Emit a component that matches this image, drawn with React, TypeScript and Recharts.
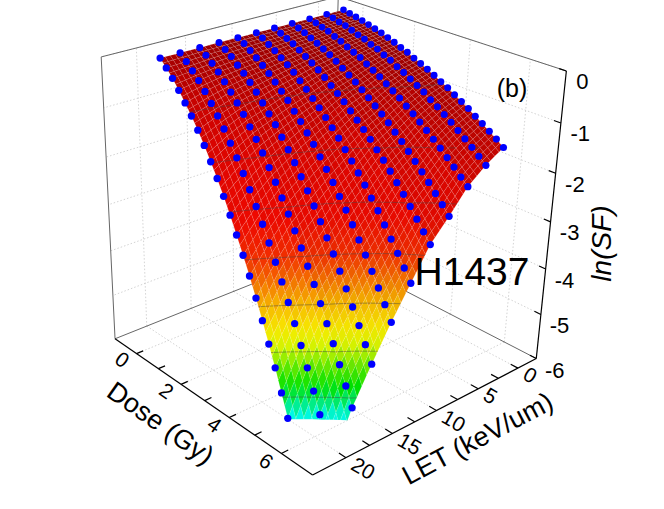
import React from "react";
import { ScatterChart, Scatter, XAxis, YAxis } from "recharts";

// grid of the fitted points
const doses = [0, 0.25, 0.5, 0.75, 1, 1.25, 1.5, 1.75, 2, 2.25, 2.5, 2.75, 3, 3.25, 3.5, 3.75, 4, 4.25, 4.5, 4.75, 5, 5.25, 5.5, 5.75, 6];
const lets = [0, 2, 4, 6, 8, 10, 12, 14, 16, 18, 20];

// ln(SF), one row per LET value, one column per dose
const lnSF = [
  [0, -0.03, -0.06, -0.09, -0.13, -0.17, -0.21, -0.26, -0.31, -0.37, -0.42, -0.49, -0.55, -0.62, -0.69, -0.77, -0.84, -0.93, -1.01, -1.1, -1.2, -1.29, -1.39, -1.49, -1.6],
  [0, -0.03, -0.07, -0.1, -0.15, -0.2, -0.24, -0.3, -0.35, -0.42, -0.48, -0.56, -0.63, -0.71, -0.79, -0.87, -0.97, -1.06, -1.16, -1.26, -1.37, -1.48, -1.59, -1.71, -1.83],
  [0, -0.04, -0.08, -0.12, -0.18, -0.23, -0.3, -0.36, -0.42, -0.5, -0.58, -0.66, -0.75, -0.84, -0.93, -1.04, -1.14, -1.25, -1.36, -1.48, -1.6, -1.73, -1.86, -2.0, -2.13],
  [0, -0.05, -0.1, -0.16, -0.22, -0.29, -0.36, -0.44, -0.53, -0.62, -0.71, -0.81, -0.92, -1.03, -1.14, -1.26, -1.39, -1.52, -1.66, -1.8, -1.95, -2.1, -2.26, -2.42, -2.59],
  [0, -0.06, -0.12, -0.18, -0.26, -0.34, -0.42, -0.51, -0.61, -0.72, -0.83, -0.94, -1.07, -1.2, -1.33, -1.47, -1.62, -1.77, -1.93, -2.1, -2.27, -2.45, -2.64, -2.83, -3.02],
  [0, -0.06, -0.14, -0.22, -0.31, -0.4, -0.5, -0.62, -0.74, -0.87, -1.0, -1.14, -1.29, -1.44, -1.61, -1.78, -1.96, -2.14, -2.34, -2.53, -2.75, -2.97, -3.19, -3.42, -3.66],
  [0, -0.07, -0.16, -0.26, -0.36, -0.47, -0.59, -0.72, -0.85, -1.01, -1.16, -1.33, -1.5, -1.69, -1.88, -2.08, -2.3, -2.51, -2.74, -2.98, -3.22, -3.48, -3.75, -4.02, -4.31],
  [0, -0.09, -0.18, -0.3, -0.41, -0.54, -0.68, -0.84, -1.0, -1.16, -1.35, -1.54, -1.74, -1.96, -2.18, -2.42, -2.67, -2.93, -3.19, -3.47, -3.76, -4.06, -4.37, -4.69, -5.02],
  [0, -0.1, -0.21, -0.33, -0.47, -0.62, -0.78, -0.95, -1.14, -1.33, -1.54, -1.77, -2.0, -2.25, -2.51, -2.78, -3.06, -3.36, -3.66, -3.98, -4.32, -4.66, -5.02, -5.39, -5.77],
  [0, -0.12, -0.25, -0.39, -0.55, -0.73, -0.92, -1.12, -1.34, -1.57, -1.82, -2.08, -2.35, -2.64, -2.95, -3.27, -3.6, -3.95, -4.31, -4.69, -5.08, -5.49, -5.91, -6.34, -6.79],
  [0, -0.14, -0.29, -0.47, -0.66, -0.86, -1.08, -1.32, -1.58, -1.85, -2.14, -2.45, -2.78, -3.12, -3.47, -3.85, -4.24, -4.65, -5.07, -5.52, -5.98, -6.45, -6.94, -7.45, -7.98],
];

const doseTicks = [0, 1, 2, 3, 4, 5, 6];
const doseLabels = [0, 2, 4, 6];
const letTicks = [0, 2.5, 5, 7.5, 10, 12.5, 15, 17.5, 20];
const letLabels = [0, 5, 10, 15, 20];
const zTicks = [0, -1, -2, -3, -4, -5, -6];
const contourLevels = [-5.6, -4.8, -4.0, -3.2, -2.4, -1.6, -0.8];

const W = 664;
const H = 509;
const X_DOMAIN = [0, W];
const Y_DOMAIN = [0, H];
const KX = W / (X_DOMAIN[1] - X_DOMAIN[0]);
const KY = H / (Y_DOMAIN[1] - Y_DOMAIN[0]);

// axis box
const DOSE_MIN = -1.02, DOSE_MAX = 7.125;
const LET_MIN = -2.4, LET_MAX = 23.435;
const Z_MIN = -6, Z_MAX = 0;

// perspective camera
const deg = Math.PI / 180;
const AZ = 39.83 * deg;
const EL = 25.61 * deg;
const DIST = 8.839;
const FOCAL = 1380.8;
const AIM = -0.488;
const CX0 = 250.4;
const CY0 = 213.2;
const BOX_H = 1.008;

const R = [Math.sin(AZ), -Math.cos(AZ), 0];
const U = [-Math.sin(EL) * Math.cos(AZ), -Math.sin(EL) * Math.sin(AZ), Math.cos(EL)];
const F = [-Math.cos(EL) * Math.cos(AZ), -Math.cos(EL) * Math.sin(AZ), -Math.sin(EL)];
const CAM = [AIM * R[0] - DIST * F[0], AIM * R[1] - DIST * F[1], AIM * R[2] - DIST * F[2]];

const dot3 = (a: number[], b: number[]) => a[0] * b[0] + a[1] * b[1] + a[2] * b[2];
const norm3 = (a: number[]) => {
  const l = Math.hypot(a[0], a[1], a[2]) || 1;
  return [a[0] / l, a[1] / l, a[2] / l];
};
const LIGHT = norm3([Math.cos(AZ), Math.sin(AZ), 0.12]);

function toWorld(d: number, l: number, z: number) {
  return [
    (2 * (d - DOSE_MIN)) / (DOSE_MAX - DOSE_MIN) - 1,
    (2 * (l - LET_MIN)) / (LET_MAX - LET_MIN) - 1,
    ((2 * (z - Z_MIN)) / (Z_MAX - Z_MIN) - 1) * BOX_H,
  ];
}

function project(d: number, l: number, z: number) {
  const p = toWorld(d, l, z);
  const v = [p[0] - CAM[0], p[1] - CAM[1], p[2] - CAM[2]];
  const zc = dot3(v, F);
  return { sx: CX0 + (FOCAL * dot3(v, R)) / zc, sy: CY0 - (FOCAL * dot3(v, U)) / zc, depth: zc };
}

const stops: number[][] = [
  [-6.0, 0, 255, 255],
  [-5.7, 0, 240, 130],
  [-5.4, 0, 230, 0],
  [-5.0, 120, 240, 0],
  [-4.7, 220, 250, 0],
  [-4.4, 255, 240, 0],
  [-4.0, 255, 190, 0],
  [-3.6, 255, 120, 0],
  [-3.2, 255, 50, 0],
  [-2.6, 255, 10, 0],
  [0, 255, 0, 0],
];

function colorAt(z: number) {
  if (z <= stops[0][0]) return stops[0].slice(1);
  for (let k = 1; k < stops.length; k++) {
    if (z <= stops[k][0]) {
      const a = stops[k - 1], b = stops[k];
      const t = (z - a[0]) / (b[0] - a[0]);
      return [a[1] + t * (b[1] - a[1]), a[2] + t * (b[2] - a[2]), a[3] + t * (b[3] - a[3])];
    }
  }
  return stops[stops.length - 1].slice(1);
}

// cut the surface at the floor of the box
function clipFloor(poly: number[][]) {
  const out: number[][] = [];
  for (let k = 0; k < poly.length; k++) {
    const a = poly[k], b = poly[(k + 1) % poly.length];
    const ina = a[2] >= Z_MIN, inb = b[2] >= Z_MIN;
    if (ina) out.push(a);
    if (ina !== inb) {
      const t = (Z_MIN - a[2]) / (b[2] - a[2]);
      out.push([a[0] + t * (b[0] - a[0]), a[1] + t * (b[1] - a[1]), Z_MIN]);
    }
  }
  return out;
}

const SUB_D = 2, SUB_L = 4;

function buildQuads() {
  const out: any[] = [];
  for (let i = 0; i < lets.length - 1; i++) {
    for (let j = 0; j < doses.length - 1; j++) {
      const c = [
        [doses[j], lets[i], lnSF[i][j]],
        [doses[j + 1], lets[i], lnSF[i][j + 1]],
        [doses[j + 1], lets[i + 1], lnSF[i + 1][j + 1]],
        [doses[j], lets[i + 1], lnSF[i + 1][j]],
      ];
      const w = c.map((p) => toWorld(p[0], p[1], p[2]));
      const a = [0, 1, 2].map((k) => w[1][k] + w[2][k] - w[0][k] - w[3][k]);
      const b = [0, 1, 2].map((k) => w[3][k] + w[2][k] - w[0][k] - w[1][k]);
      const n = norm3([a[1] * b[2] - a[2] * b[1], a[2] * b[0] - a[0] * b[2], a[0] * b[1] - a[1] * b[0]]);
      const lam = Math.max(0, dot3(n, LIGHT));
      const shade = 0.52 + 0.48 * lam * lam;
      const at = (u: number, v: number) =>
        [0, 1, 2].map((k) => (1 - u) * (1 - v) * c[0][k] + u * (1 - v) * c[1][k] + u * v * c[2][k] + (1 - u) * v * c[3][k]);
      for (let su = 0; su < SUB_D; su++) {
        for (let sv = 0; sv < SUB_L; sv++) {
          const u0 = su / SUB_D, u1 = (su + 1) / SUB_D, v0 = sv / SUB_L, v1 = (sv + 1) / SUB_L;
          const poly = clipFloor([at(u0, v0), at(u1, v0), at(u1, v1), at(u0, v1)]);
          if (poly.length < 3) continue;
          const zMean = poly.reduce((s, p) => s + p[2], 0) / poly.length;
          const col = colorAt(zMean).map((x) => Math.round(x * shade));
          const pts = poly.map((p) => project(p[0], p[1], p[2]));
          const contours: any[] = [];
          contourLevels.forEach((lv) => {
            const hits: number[][] = [];
            for (let k = 0; k < poly.length; k++) {
              const p = poly[k], q = poly[(k + 1) % poly.length];
              if ((p[2] - lv) * (q[2] - lv) < 0) {
                const t = (lv - p[2]) / (q[2] - p[2]);
                hits.push([p[0] + t * (q[0] - p[0]), p[1] + t * (q[1] - p[1])]);
              }
            }
            if (hits.length >= 2) contours.push([project(hits[0][0], hits[0][1], lv), project(hits[1][0], hits[1][1], lv)]);
          });
          out.push({
            sx: pts[0].sx,
            sy: pts[0].sy,
            pts,
            contours,
            fill: `rgb(${col[0]},${col[1]},${col[2]})`,
            depth: pts.reduce((s, p) => s + p.depth, 0) / pts.length,
          });
        }
      }
    }
  }
  return out.sort((p, q) => q.depth - p.depth);
}

function buildDots() {
  const out: any[] = [];
  lets.forEach((l, i) =>
    doses.forEach((d, j) => {
      const z = lnSF[i][j];
      if (z < Z_MIN) return;
      const p = project(d, l, z);
      out.push({ sx: p.sx, sy: p.sy, r: (3.5 * DIST) / p.depth, depth: p.depth });
    })
  );
  return out.sort((p, q) => q.depth - p.depth);
}

const GRID = { stroke: "#c8c8c8", width: 0.8, dash: "1.5 2" };
const EDGE = { stroke: "#666", width: 1 };
const AXIS = { stroke: "#000", width: 1.2 };

function seg(a: number[], b: number[], style: any) {
  const p = project(a[0], a[1], a[2]);
  const q = project(b[0], b[1], b[2]);
  return { sx: p.sx, sy: p.sy, ex: q.sx, ey: q.sy, ...style };
}

function buildBackLines() {
  const out: any[] = [];
  doseLabels.forEach((d) => {
    out.push(seg([d, LET_MIN, Z_MIN], [d, LET_MAX, Z_MIN], GRID));
    out.push(seg([d, LET_MIN, Z_MIN], [d, LET_MIN, Z_MAX], GRID));
  });
  letLabels.forEach((l) => {
    out.push(seg([DOSE_MIN, l, Z_MIN], [DOSE_MAX, l, Z_MIN], GRID));
    out.push(seg([DOSE_MIN, l, Z_MIN], [DOSE_MIN, l, Z_MAX], GRID));
  });
  zTicks.slice(0, -1).forEach((z) => {
    out.push(seg([DOSE_MIN, LET_MIN, z], [DOSE_MIN, LET_MAX, z], GRID));
    out.push(seg([DOSE_MIN, LET_MIN, z], [DOSE_MAX, LET_MIN, z], GRID));
  });
  out.push(seg([DOSE_MIN, LET_MAX, Z_MIN], [DOSE_MIN, LET_MAX, Z_MAX], EDGE));
  out.push(seg([DOSE_MIN, LET_MIN, Z_MIN], [DOSE_MIN, LET_MIN, Z_MAX], EDGE));
  out.push(seg([DOSE_MIN, LET_MAX, Z_MAX], [DOSE_MIN, LET_MIN, Z_MAX], EDGE));
  out.push(seg([DOSE_MIN, LET_MIN, Z_MAX], [DOSE_MAX, LET_MIN, Z_MAX], EDGE));
  out.push(seg([DOSE_MIN, LET_MAX, Z_MIN], [DOSE_MIN, LET_MIN, Z_MIN], EDGE));
  out.push(seg([DOSE_MIN, LET_MIN, Z_MIN], [DOSE_MAX, LET_MIN, Z_MIN], EDGE));
  return out;
}

function buildFrontLines() {
  const out: any[] = [];
  out.push(seg([DOSE_MIN, LET_MAX, Z_MIN], [DOSE_MAX, LET_MAX, Z_MIN], AXIS));
  out.push(seg([DOSE_MAX, LET_MAX, Z_MIN], [DOSE_MAX, LET_MIN, Z_MIN], AXIS));
  out.push(seg([DOSE_MAX, LET_MIN, Z_MIN], [DOSE_MAX, LET_MIN, Z_MAX], AXIS));
  doseTicks.forEach((d) => out.push(seg([d, LET_MAX, Z_MIN], [d, LET_MAX - 0.7, Z_MIN], AXIS)));
  letTicks.forEach((l) => out.push(seg([DOSE_MAX, l, Z_MIN], [DOSE_MAX - 0.25, l, Z_MIN], AXIS)));
  zTicks.forEach((z) => out.push(seg([DOSE_MAX, LET_MIN, z], [DOSE_MAX - 0.22, LET_MIN, z], AXIS)));
  return out;
}

function label(p: { sx: number; sy: number }, text: string, size: number, rot = 0, anchor = "middle", italic = false, dy = 0) {
  return { sx: p.sx, sy: p.sy + dy, text, size, rot, anchor, italic };
}

function buildLabels() {
  const out: any[] = [];
  doseLabels.forEach((d) => out.push(label(project(d, LET_MAX + 1.5, Z_MIN), String(d), 21, 35)));
  letLabels.forEach((l) => out.push(label(project(DOSE_MAX + 0.25, l, Z_MIN), String(l), 21, 30, "start")));
  zTicks.forEach((z) => out.push(label(project(DOSE_MAX + 0.3, LET_MIN, z), String(z), 22, 0, "start", false, 7)));
  out.push(label(project(3.1, LET_MAX + 4.7, Z_MIN), "Dose (Gy)", 27, 35));
  out.push(label(project(DOSE_MAX + 1.5, 10.4, Z_MIN), "LET (keV/um)", 27, -28));
  out.push(label(project(DOSE_MAX + 1.6, LET_MIN, -3), "ln(SF)", 28, -90, "middle", true));
  out.push({ sx: 512, sy: 88, text: "(b)", size: 25, rot: 0, anchor: "middle", italic: false });
  out.push({ sx: 472, sy: 271, text: "H1437", size: 39, rot: 0, anchor: "middle", italic: false });
  return out;
}

const quads = buildQuads();
const dots = buildDots();
const backLines = buildBackLines();
const frontLines = buildFrontLines();
const labels = buildLabels();

const SegmentShape = (props: any) => {
  const { cx, cy, payload: s } = props;
  return (
    <line x1={cx} y1={cy} x2={cx + (s.ex - s.sx) * KX} y2={cy + (s.ey - s.sy) * KY} stroke={s.stroke} strokeWidth={s.width} strokeDasharray={s.dash} />
  );
};

const PolyShape = (props: any) => {
  const { cx, cy, payload } = props;
  const px = (q: any) => cx + (q.sx - payload.sx) * KX;
  const py = (q: any) => cy + (q.sy - payload.sy) * KY;
  const d = payload.pts.map((q: any, k: number) => `${k ? "L" : "M"}${px(q).toFixed(2)},${py(q).toFixed(2)}`).join("") + "Z";
  return (
    <g>
      <path d={d} fill={payload.fill} stroke="rgba(255,255,255,0.22)" strokeWidth={0.45} />
      {payload.contours.map((c: any, k: number) => (
        <line key={k} x1={px(c[0])} y1={py(c[0])} x2={px(c[1])} y2={py(c[1])} stroke="rgba(70,70,70,0.6)" strokeWidth={0.8} />
      ))}
    </g>
  );
};

const DotShape = (props: any) => <circle cx={props.cx} cy={props.cy} r={props.payload.r} fill="#0000ff" />;

const LabelShape = (props: any) => {
  const { cx, cy, payload: t } = props;
  return (
    <text
      x={cx}
      y={cy}
      transform={t.rot ? `rotate(${t.rot} ${cx} ${cy})` : undefined}
      textAnchor={t.anchor}
      dominantBaseline="central"
      fontSize={t.size}
      fontStyle={t.italic ? "italic" : "normal"}
      fontFamily="Arial, 'Liberation Sans', sans-serif"
      fill="#000"
    >
      {t.text}
    </text>
  );
};

export default function App() {
  return (
    <div style={{ position: "absolute", left: 0, top: 0, width: W, height: H, background: "#fff" }}>
      <ScatterChart width={W} height={H} margin={{ top: 0, right: 0, bottom: 0, left: 0 }}>
        <XAxis type="number" dataKey="sx" domain={X_DOMAIN} allowDataOverflow hide />
        <YAxis type="number" dataKey="sy" domain={Y_DOMAIN} allowDataOverflow reversed hide />
        <Scatter data={backLines} shape={SegmentShape} isAnimationActive={false} />
        <Scatter data={quads} shape={PolyShape} isAnimationActive={false} />
        <Scatter data={dots} shape={DotShape} isAnimationActive={false} />
        <Scatter data={frontLines} shape={SegmentShape} isAnimationActive={false} />
        <Scatter data={labels} shape={LabelShape} isAnimationActive={false} />
      </ScatterChart>
    </div>
  );
}
